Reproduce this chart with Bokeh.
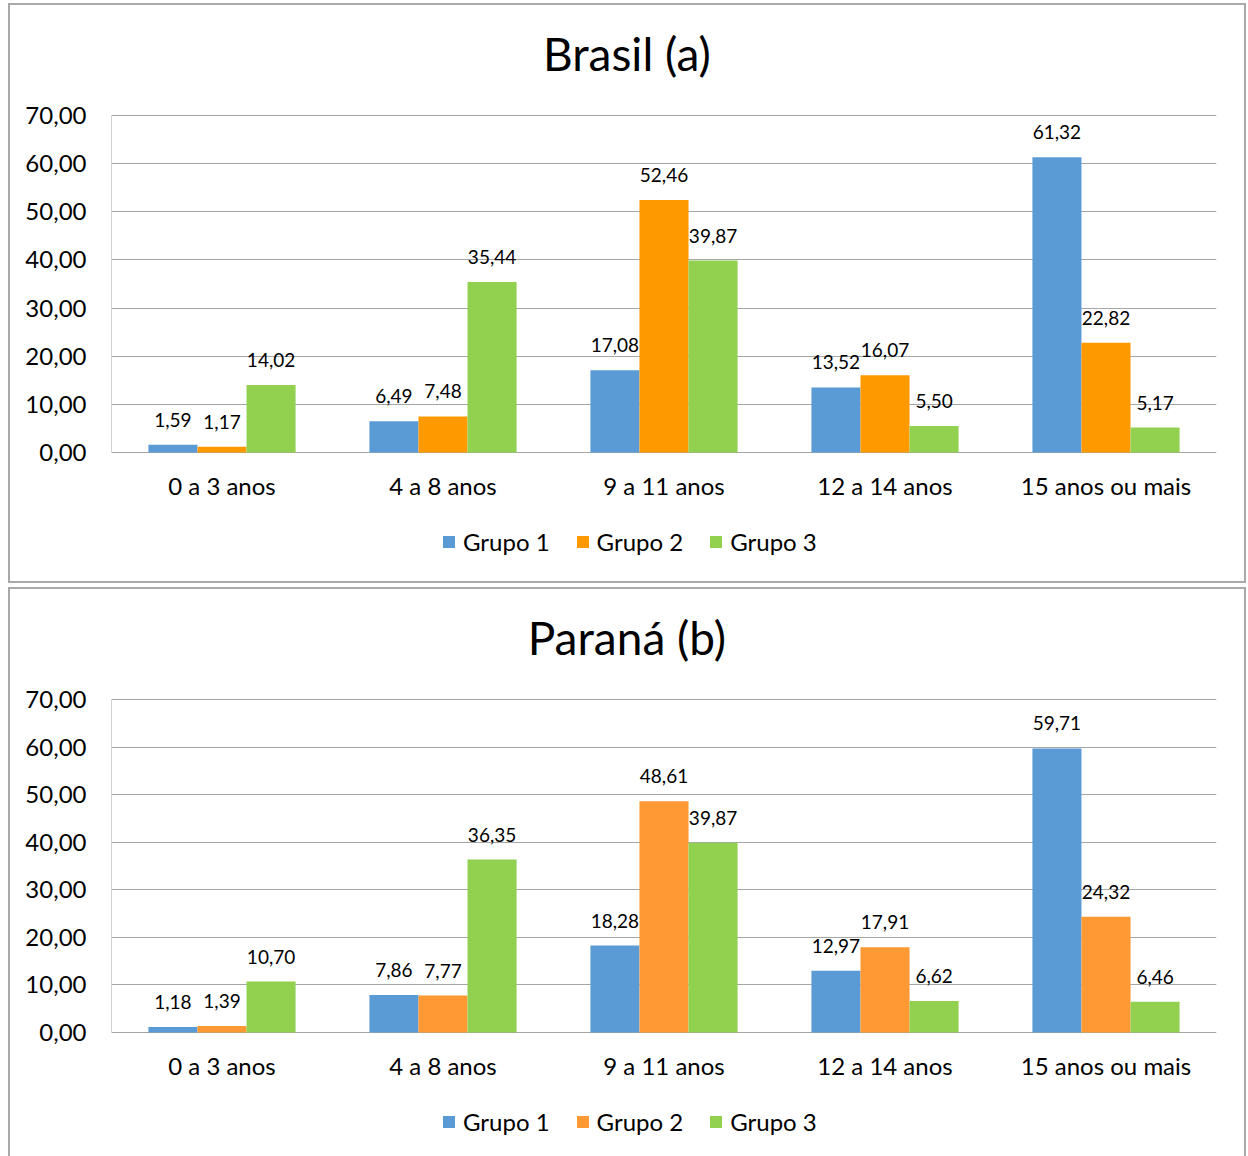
from bokeh.plotting import figure
from bokeh.models import FactorRange, ColumnDataSource, FixedTicker, Legend, LegendItem, Range1d
from bokeh.transform import dodge
from bokeh.layouts import column
from bokeh.embed import file_html
from bokeh.resources import INLINE

# Years of schooling categories and shares per group (%)
categories = ["0 a 3 anos", "4 a 8 anos", "9 a 11 anos", "12 a 14 anos", "15 anos ou mais"]
groups = ["Grupo 1", "Grupo 2", "Grupo 3"]

brasil_g1 = [1.59, 6.49, 17.08, 13.52, 61.32]
brasil_g2 = [1.17, 7.48, 52.46, 16.07, 22.82]
brasil_g3 = [14.02, 35.44, 39.87, 5.50, 5.17]

parana_g1 = [1.18, 7.86, 18.28, 12.97, 59.71]
parana_g2 = [1.39, 7.77, 48.61, 17.91, 24.32]
parana_g3 = [10.70, 36.35, 39.87, 6.62, 6.46]

y_ticks = [0, 10, 20, 30, 40, 50, 60, 70]

FONT = "Lato"
GRID = "#a6a6a6"
BAR_W = 0.222
OFFSETS = [-BAR_W, 0.0, BAR_W]
Y_MAX = 70


def fmt(v):
    return f"{v:.2f}".replace(".", ",")


def make_panel(title, series, colors, height, value_px, legend_y, top_margin):
    # The frame covers the whole panel: 110 px above the top gridline hold the
    # title, the part below zero holds the category names and the legend.
    head_px, foot_px = 110, 6
    px_per_unit = value_px / Y_MAX
    y_end = Y_MAX + head_px / px_per_unit
    y_start = y_end - (height - foot_px) / px_per_unit

    p = figure(
        x_range=FactorRange(*categories, range_padding=0),
        y_range=Range1d(y_start, y_end),
        width=1234, height=height,
        output_backend="svg", toolbar_location=None,
        min_border_left=101, min_border_right=28,
        min_border_top=0, min_border_bottom=foot_px,
    )
    p.margin = (top_margin, 0, 0, 10)
    p.styles = {"outline": "2px solid #a9a9a9", "outline-offset": "0px"}
    p.outline_line_color = None
    p.background_fill_color = "white"
    p.border_fill_color = "white"

    src = ColumnDataSource(dict(
        cat=categories,
        zero=[0] * len(categories),
        g1=series[0], g2=series[1], g3=series[2],
        l1=[fmt(v) for v in series[0]],
        l2=[fmt(v) for v in series[1]],
        l3=[fmt(v) for v in series[2]],
    ))

    # chart title, centred on the whole panel
    head = ColumnDataSource(dict(cat=[categories[2]], y=[Y_MAX], t=[title]))
    p.text(x=dodge("cat", -0.168, range=p.x_range), y="y", text="t", source=head,
           text_align="center", text_baseline="middle", y_offset=-62,
           text_font_size="46px", text_color="black",
           text_font={"value": FONT})

    # left axis line, from 0 to 70 only
    edge = ColumnDataSource(dict(cat=[categories[0]]))
    ex = dodge("cat", -0.5, range=p.x_range)
    p.segment(x0=ex, y0=0, x1=ex, y1=Y_MAX, source=edge, line_color=GRID, line_width=1)

    items = []
    for i, (key, lab) in enumerate([("g1", "l1"), ("g2", "l2"), ("g3", "l3")]):
        xs = dodge("cat", OFFSETS[i], range=p.x_range)
        r = p.vbar(x=xs, top=key, width=BAR_W, source=src,
                   fill_color=colors[i], line_color=None)
        p.text(x=xs, y=key, text=lab, source=src,
               text_align="center", text_baseline="middle", y_offset=-25,
               text_font_size="19px", text_color="black",
               text_font={"value": FONT})
        items.append(LegendItem(label=groups[i], renderers=[r]))

    # category names under the zero line
    p.text(x="cat", y="zero", text="cat", source=src,
           text_align="center", text_baseline="middle", y_offset=33,
           text_font_size="24px", text_color="black",
           text_font={"value": FONT})

    legend = Legend(items=items, orientation="horizontal",
                    location=(330, legend_y),
                    padding=0, margin=0, spacing=25,
                    glyph_width=15, glyph_height=15, label_standoff=7,
                    label_text_font=FONT, label_text_font_size="24px",
                    label_text_color="black",
                    border_line_color=None, background_fill_alpha=0)
    p.add_layout(legend, "center")

    p.xaxis.visible = False

    p.yaxis.ticker = FixedTicker(ticks=y_ticks)
    p.yaxis.major_label_overrides = {t: fmt(t) for t in y_ticks}
    p.yaxis.major_tick_line_color = None
    p.yaxis.minor_tick_line_color = None
    p.yaxis.axis_line_color = None
    p.yaxis.major_label_standoff = 19
    p.yaxis.major_label_text_font = FONT
    p.yaxis.major_label_text_font_size = "24px"
    p.yaxis.major_label_text_color = "black"

    p.xgrid.grid_line_color = None
    p.ygrid.grid_line_color = GRID
    p.ygrid.ticker = FixedTicker(ticks=y_ticks)
    return p


top = make_panel("Brasil (a)", [brasil_g1, brasil_g2, brasil_g3],
                 ["#5b9bd5", "#ff9900", "#92d050"], 576, 337, 19, 5)
bottom = make_panel("Paraná (b)", [parana_g1, parana_g2, parana_g3],
                    ["#5b9bd5", "#ff9933", "#92d050"], 567, 333, 14, 8)

layout = column(top, bottom, spacing=0)
layout.margin = 0

open("out.html", "w").write(file_html(layout, INLINE))
